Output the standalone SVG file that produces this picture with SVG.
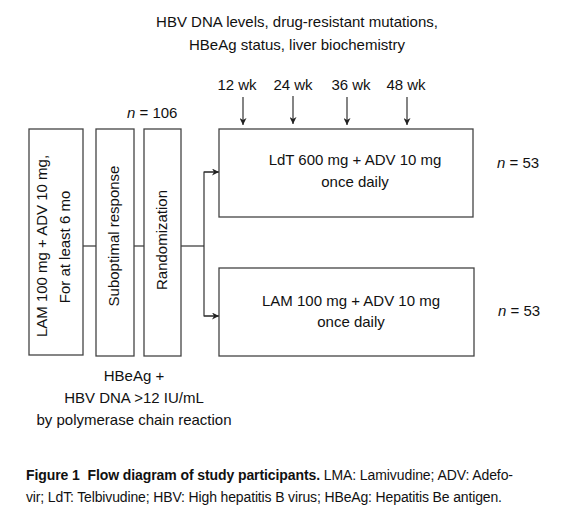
<svg xmlns="http://www.w3.org/2000/svg" width="568" height="522" viewBox="0 0 568 522">
<style>
text{font-family:"Liberation Sans",Arial,sans-serif;font-size:15px;fill:#111}
.box{fill:#fff;stroke:#444;stroke-width:1.3}
.ln{fill:none;stroke:#333;stroke-width:1.2}
.c{text-anchor:middle}
.cap{font-size:14px}
</style>
<defs>
<marker id="ah" viewBox="0 0 10 10" refX="10" refY="5" markerWidth="7" markerHeight="7" orient="auto" markerUnits="userSpaceOnUse">
<path d="M0,0 L10,5 L0,10 L3,5 Z" fill="#222"/>
</marker>
</defs>
<rect width="568" height="522" fill="#fff"/>
<g id="top-label">
<text class="c" x="297" y="27">HBV DNA levels, drug-resistant mutations,</text>
<text class="c" x="297" y="50">HBeAg status, liver biochemistry</text>
</g>
<g id="timepoints">
<text class="c" x="237" y="90">12 wk</text>
<text class="c" x="293" y="90">24 wk</text>
<text class="c" x="351" y="90">36 wk</text>
<text class="c" x="406" y="90">48 wk</text>
</g>
<text x="127" y="118"><tspan font-style="italic">n</tspan> = 106</text>
<g id="connectors">
<line class="ln" x1="243" y1="97" x2="243" y2="125" marker-end="url(#ah)"/>
<line class="ln" x1="293" y1="96" x2="293" y2="124" marker-end="url(#ah)"/>
<line class="ln" x1="347" y1="97" x2="347" y2="125" marker-end="url(#ah)"/>
<line class="ln" x1="407" y1="97" x2="407" y2="125" marker-end="url(#ah)"/>
<line class="ln" x1="83" y1="246" x2="96" y2="246"/>
<line class="ln" x1="134" y1="246" x2="144" y2="246"/>
<line class="ln" x1="181" y1="246" x2="204" y2="246"/>
<path class="ln" d="M219,172 H204 V316 H219"/>
<line class="ln" x1="204" y1="172" x2="219" y2="172" marker-end="url(#ah)"/>
<line class="ln" x1="204" y1="316" x2="219" y2="316" marker-end="url(#ah)"/>
</g>
<g id="n1">
<rect class="box" x="29" y="129" width="54" height="226"/>
<text class="c" transform="translate(47,246) rotate(-90)">LAM 100 mg + ADV 10 mg,</text>
<text class="c" transform="translate(70,247) rotate(-90)">For at least 6 mo</text>
</g>
<g id="n2">
<rect class="box" x="96" y="129" width="38" height="227"/>
<text class="c" transform="translate(119,236) rotate(-90)">Suboptimal response</text>
</g>
<g id="n3">
<rect class="box" x="144" y="129" width="37" height="227"/>
<text class="c" transform="translate(167,240) rotate(-90)">Randomization</text>
</g>
<g id="n4">
<rect class="box" x="219" y="129" width="254" height="88"/>
<text class="c" x="355" y="165">LdT 600 mg + ADV 10 mg</text>
<text class="c" x="355" y="187">once daily</text>
</g>
<g id="n5">
<rect class="box" x="219" y="268" width="255" height="88"/>
<text class="c" x="351" y="306">LAM 100 mg + ADV 10 mg</text>
<text class="c" x="351" y="327">once daily</text>
</g>
<text x="497" y="168"><tspan font-style="italic">n</tspan> = 53</text>
<text x="498" y="316"><tspan font-style="italic">n</tspan> = 53</text>
<g id="criteria">
<text class="c" x="134" y="381">HBeAg +</text>
<text class="c" x="134" y="403">HBV DNA &gt;12 IU/mL</text>
<text class="c" x="134" y="425">by polymerase chain reaction</text>
</g>
<g id="caption">
<text class="cap" x="26" y="480" textLength="487" lengthAdjust="spacing"><tspan font-weight="bold">Figure 1</tspan><tspan font-weight="bold" dx="4"> Flow diagram of study participants.</tspan> LMA: Lamivudine; ADV: Adefo-</text>
<text class="cap" x="26" y="502" textLength="476" lengthAdjust="spacing">vir; LdT: Telbivudine; HBV: High hepatitis B virus; HBeAg: Hepatitis Be antigen.</text>
</g>
</svg>
